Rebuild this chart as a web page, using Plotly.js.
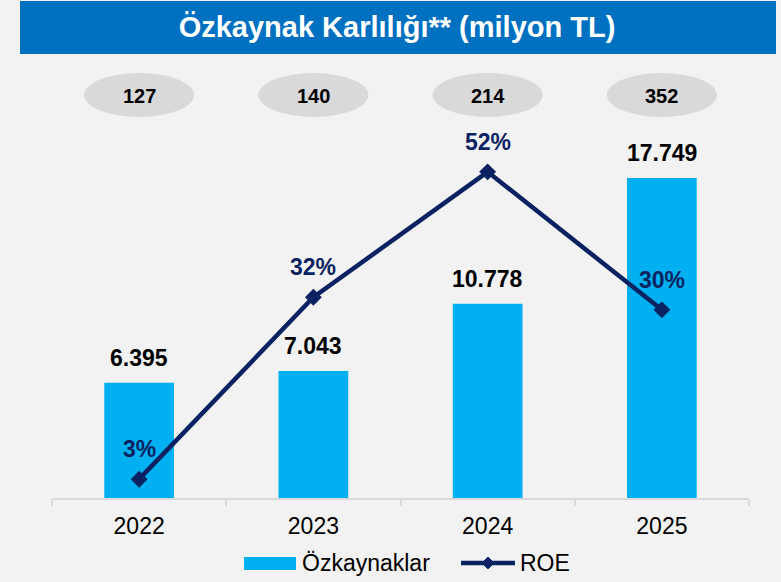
<!DOCTYPE html>
<html><head><meta charset="utf-8">
<script src="https://cdn.plot.ly/plotly-3.0.1.min.js"></script>
<style>html,body{margin:0;padding:0;background:#f2f2f2;}</style>
</head><body><div id="chart" style="width:781px;height:582px;"></div>
<script>
const years = ['2022', '2023', '2024', '2025'];
const equity = [6395, 7043, 10778, 17749];
const roe = [3, 32, 52, 30];
const topValues = [127, 140, 214, 352];
const seriesNames = ['Özkaynaklar', 'ROE'];
const titleText = 'Özkaynak Karlılığı** (milyon TL)';

const W = 781, H = 582, L = 52, R = 32, T = 0, B = 84;
const pw = W - L - R, ph = H - T - B;
const px = x => (x - L) / pw;
const py = y => (H - B - y) / ph;
const fmt = v => String(v).replace(/\B(?=(\d{3})+(?!\d))/g, '.');
const FONT = '"Liberation Sans", Arial, sans-serif';
const NAVY = '#0a2261';
const CYAN = '#00b0f0';

const traces = [
  {
    type: 'bar', x: years, y: equity, name: seriesNames[0],
    marker: {color: CYAN}, width: 0.4, hoverinfo: 'none', yaxis: 'y'
  },
  {
    type: 'scatter', mode: 'lines+markers', x: years, y: roe, name: seriesNames[1],
    yaxis: 'y2', line: {color: NAVY, width: 4.5},
    marker: {symbol: 'diamond', size: 13, color: NAVY}, hoverinfo: 'none'
  }
];

const annotations = [];
years.forEach((yr, i) => {
  annotations.push({x: i, y: equity[i], xref: 'x', yref: 'y', text: '<b>' + fmt(equity[i]) + '</b>',
    showarrow: false, yanchor: 'middle', yshift: 25, font: {family: FONT, size: 23, color: '#000'}});
  annotations.push({x: i, y: roe[i], xref: 'x', yref: 'y2', text: '<b>' + roe[i] + '%</b>',
    showarrow: false, yanchor: 'middle', yshift: 30, font: {family: FONT, size: 23, color: NAVY}});
  annotations.push({x: i, y: py(96), xref: 'x', yref: 'paper', text: '<b>' + topValues[i] + '</b>',
    showarrow: false, yanchor: 'middle', font: {family: FONT, size: 20, color: '#000'}});
});
// legend texts
annotations.push({x: px(300), y: py(563), xref: 'paper', yref: 'paper', xanchor: 'left', yanchor: 'middle',
  text: seriesNames[0], showarrow: false, font: {family: FONT, size: 23, color: '#000'}});
annotations.push({x: px(518), y: py(563), xref: 'paper', yref: 'paper', xanchor: 'left', yanchor: 'middle',
  text: seriesNames[1], showarrow: false, font: {family: FONT, size: 23, color: '#000'}});

const shapes = [
  {type: 'rect', xref: 'paper', yref: 'paper', x0: px(20), x1: px(776), y0: py(54), y1: py(1),
   fillcolor: '#0070c0', line: {width: 0}, layer: 'below'}
];
const halfW = 55 / (pw / years.length);
years.forEach((yr, i) => {
  shapes.push({type: 'circle', xref: 'x', yref: 'paper', x0: i - halfW, x1: i + halfW,
    y0: py(117), y1: py(73), fillcolor: '#d9d9d9', line: {width: 0}, layer: 'below'});
});
// legend symbols
shapes.push({type: 'rect', xref: 'paper', yref: 'paper', x0: px(244), x1: px(296), y0: py(570), y1: py(557),
  fillcolor: CYAN, line: {width: 0}});
shapes.push({type: 'line', xref: 'paper', yref: 'paper', x0: px(461), x1: px(515), y0: py(563), y1: py(563),
  line: {color: NAVY, width: 4.5}});
const d = 6;
shapes.push({type: 'path', xref: 'paper', yref: 'paper',
  path: `M${px(488 - d)},${py(563)} L${px(488)},${py(563 - d)} L${px(488 + d)},${py(563)} L${px(488)},${py(563 + d)} Z`,
  fillcolor: NAVY, line: {color: NAVY, width: 1}});

const layout = {
  width: W, height: H,
  margin: {l: L, r: R, t: T, b: B, pad: 0},
  paper_bgcolor: '#f2f2f2', plot_bgcolor: '#f2f2f2',
  showlegend: false,
  title: {text: '<b>' + titleText + '</b>', x: 397 / W, xref: 'container', xanchor: 'center',
    y: 1 - 27 / H, yref: 'container', yanchor: 'middle',
    font: {family: FONT, size: 29, color: '#ffffff'}},
  xaxis: {type: 'category', range: [-0.5, years.length - 0.5], autorange: false,
    showline: true, linecolor: '#d9d9d9', linewidth: 2,
    ticks: 'outside', tickson: 'boundaries', ticklen: 6, tickcolor: '#d9d9d9', tickwidth: 2,
    ticklabelstandoff: 6,
    tickangle: 0, showgrid: false, zeroline: false, fixedrange: true,
    tickfont: {family: FONT, size: 23, color: '#000'}},
  yaxis: {range: [0, 27622], visible: false, fixedrange: true},
  yaxis2: {range: [0, 79.4], overlaying: 'y', visible: false, fixedrange: true},
  annotations: annotations,
  shapes: shapes,
  font: {family: FONT}
};

Plotly.newPlot('chart', traces, layout, {staticPlot: true, displayModeBar: false});
</script>
</body></html>
